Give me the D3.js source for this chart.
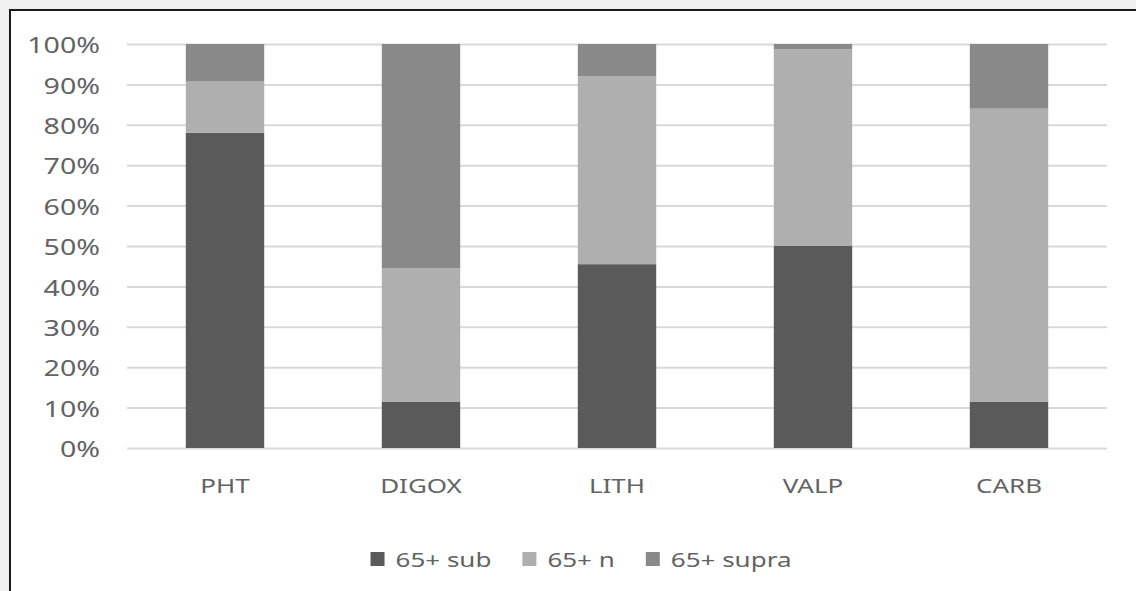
<!DOCTYPE html>
<html>
<head>
<meta charset="utf-8">
<script src="https://cdn.jsdelivr.net/npm/d3@7"></script>
<style>
  html, body { margin: 0; padding: 0; background: #f0f0f0; }
  svg { display: block; }
  text { font-family: "Noto Sans", "Open Sans", sans-serif; fill: #636363; }
</style>
</head>
<body>
<svg id="chart" width="1136" height="591"></svg>
<script>
// Drug categories along the x axis
const categories = ["PHT", "DIGOX", "LITH", "VALP", "CARB"];
// Share (%) of levels in each range, patients 65+
const subValues   = [78, 11.5, 45.5, 50, 11.5];
const nValues     = [12.7, 33, 46.5, 48.7, 72.5];
const supraValues = [9.3, 55.5, 8, 1.3, 16];
const seriesNames = ["65+ sub", "65+ n", "65+ supra"];
const seriesColors = ["#5a5a5a", "#afafaf", "#898989"];
const yTicks = [0, 0.1, 0.2, 0.3, 0.4, 0.5, 0.6, 0.7, 0.8, 0.9, 1.0];

const svg = d3.select("#chart");
const W = 1136, H = 591;

// white chart area with dark frame
svg.append("rect").attr("x", 10).attr("y", 10)
  .attr("width", W + 20).attr("height", H + 20)
  .attr("fill", "#ffffff").attr("stroke", "#1a1a1a").attr("stroke-width", 2);

const plot = { left: 127, right: 1107, top: 44, bottom: 448 };

const x = d3.scaleBand().domain(categories)
  .range([plot.left, plot.right]).paddingInner(0.6).paddingOuter(0.3);
const y = d3.scaleLinear().domain([0, 1]).range([plot.bottom, plot.top]);

const textScale = 1.3;

// gridlines + y labels
const yAxis = svg.append("g")
  .attr("transform", `translate(${plot.left},0)`)
  .call(d3.axisLeft(y).tickValues(yTicks).tickSize(-(plot.right - plot.left))
    .tickPadding(0).tickFormat(d3.format(".0%")));
yAxis.select(".domain").remove();
yAxis.selectAll(".tick line").attr("stroke", "#d9d9d9").attr("stroke-width", 2);
yAxis.selectAll(".tick text")
  .attr("x", null).attr("dy", null)
  .attr("font-size", 22)
  .attr("text-anchor", "end")
  .attr("dominant-baseline", "central")
  .attr("transform", `translate(-27,0) scale(${textScale},1)`);

// stacked bars
const rows = categories.map((c, i) => ({
  cat: c, "65+ sub": subValues[i] / 100, "65+ n": nValues[i] / 100, "65+ supra": supraValues[i] / 100
}));
const stacked = d3.stack().keys(seriesNames)(rows);

svg.append("g").selectAll("g").data(stacked).join("g")
  .attr("fill", (d, i) => seriesColors[i])
  .selectAll("rect").data(d => d).join("rect")
  .attr("x", d => x(d.data.cat))
  .attr("width", x.bandwidth())
  .attr("y", d => y(d[1]))
  .attr("height", d => y(d[0]) - y(d[1]));

// x labels
const xAxis = svg.append("g").attr("transform", `translate(0,${plot.bottom})`)
  .call(d3.axisBottom(x).tickSize(0).tickPadding(0));
xAxis.select(".domain").remove();
xAxis.selectAll(".tick text")
  .attr("y", null).attr("dy", null)
  .attr("font-size", 20)
  .attr("text-anchor", "middle")
  .attr("transform", `translate(0,45) scale(${textScale},1)`);

// legend, centred under the chart frame
const legend = svg.append("g");
const items = legend.selectAll("g").data(seriesNames).join("g");
items.append("rect").attr("width", 14).attr("height", 14).attr("y", -15)
  .attr("fill", (d, i) => seriesColors[i]);
items.append("text").text(d => d)
  .attr("font-size", 20)
  .attr("transform", `translate(25,0) scale(${textScale},1)`);
let cursor = 0;
items.each(function () {
  const g = d3.select(this);
  g.attr("transform", `translate(${cursor},0)`);
  const tw = g.select("text").node().getComputedTextLength() * textScale;
  cursor += 25 + tw + 31;
});
const total = cursor - 31;
legend.attr("transform", `translate(${581 - total / 2},567)`);
</script>
</body>
</html>
